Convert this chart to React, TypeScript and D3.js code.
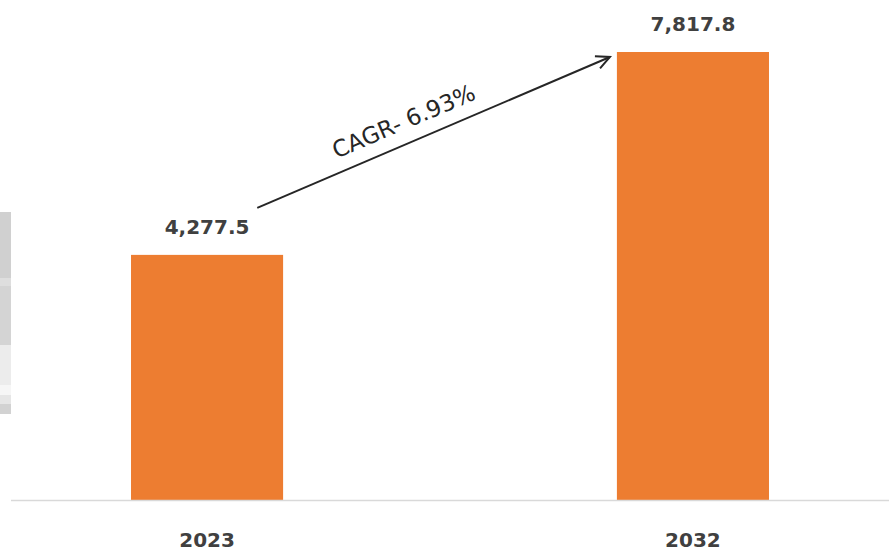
import React from "react";
import * as d3 from "d3";

const categories: string[] = ["2023", "2032"];
const values: number[] = [4277.5, 7817.8];
const cagrLabel = "CAGR- 6.93%";

const W = 889;
const H = 552;

export default function App() {
  const x = d3
    .scaleBand<string>()
    .domain(categories)
    .range([11, 889])
    .paddingInner(0.687)
    .paddingOuter(0.247);
  const y = d3.scaleLinear().domain([0, d3.max(values) as number]).range([500, 52]);
  const fmt = d3.format(",.1f");

  const bw = x.bandwidth();
  // arrow from above first label to left of second bar top
  const x1 = (x(categories[0]) as number) + bw * 0.83;
  const y1 = y(values[0]) - 47;
  const x2 = (x(categories[1]) as number) - 7;
  const y2 = y(values[1]) + 5;
  const ang = (Math.atan2(y2 - y1, x2 - x1) * 180) / Math.PI;
  const headLen = 15;
  const a = Math.atan2(y2 - y1, x2 - x1);
  const h1x = x2 - headLen * Math.cos(a - 0.45);
  const h1y = y2 - headLen * Math.sin(a - 0.45);
  const h2x = x2 - headLen * Math.cos(a + 0.45);
  const h2y = y2 - headLen * Math.sin(a + 0.45);
  const mx = x1 + (x2 - x1) * 0.44;
  const my = y1 + (y2 - y1) * 0.44;
  const off = 14;
  const tx = mx + off * Math.sin(a);
  const ty = my - off * Math.cos(a);

  const grayBands: [number, number, string][] = [
    [212, 278, "#d0d0d0"],
    [278, 286, "#dedede"],
    [286, 345, "#d4d4d4"],
    [345, 385, "#ececec"],
    [385, 395, "#f6f6f6"],
    [395, 404, "#e6e6e6"],
    [404, 414, "#d2d2d2"],
  ];

  return (
    <svg
      width={W}
      height={H}
      style={{ position: "absolute", left: 0, top: 0, background: "#fff" }}
    >
      {grayBands.map(([a0, a1, c], i) => (
        <rect key={i} x={0} y={a0} width={11} height={a1 - a0} fill={c} />
      ))}
      {categories.map((c, i) => (
        <rect
          key={c}
          x={x(c)}
          y={y(values[i])}
          width={bw}
          height={y(0) - y(values[i])}
          fill="#ED7D31"
        />
      ))}
      <line x1={11} x2={W} y1={y(0) + 0.5} y2={y(0) + 0.5} stroke="#d9d9d9" strokeWidth={1.5} />
      {categories.map((c, i) => (
        <text
          key={"v" + c}
          x={(x(c) as number) + bw / 2}
          y={y(values[i]) - 21}
          textAnchor="middle"
          fontFamily="DejaVu Sans"
          fontWeight="bold"
          fontSize={20}
          fill="#404040"
        >
          {fmt(values[i])}
        </text>
      ))}
      {categories.map((c) => (
        <text
          key={"c" + c}
          x={(x(c) as number) + bw / 2}
          y={y(0) + 47}
          textAnchor="middle"
          fontFamily="DejaVu Sans"
          fontWeight="bold"
          fontSize={20}
          fill="#404040"
        >
          {c}
        </text>
      ))}
      <line x1={x1} y1={y1} x2={x2} y2={y2} stroke="#262626" strokeWidth={2} />
      <polyline
        points={`${h1x},${h1y} ${x2},${y2} ${h2x},${h2y}`}
        fill="none"
        stroke="#262626"
        strokeWidth={2}
      />
      <text
        transform={`translate(${tx},${ty}) rotate(${ang})`}
        textAnchor="middle"
        fontFamily="DejaVu Sans"
        fontSize={23}
        fill="#262626"
      >
        {cagrLabel}
      </text>
    </svg>
  );
}
